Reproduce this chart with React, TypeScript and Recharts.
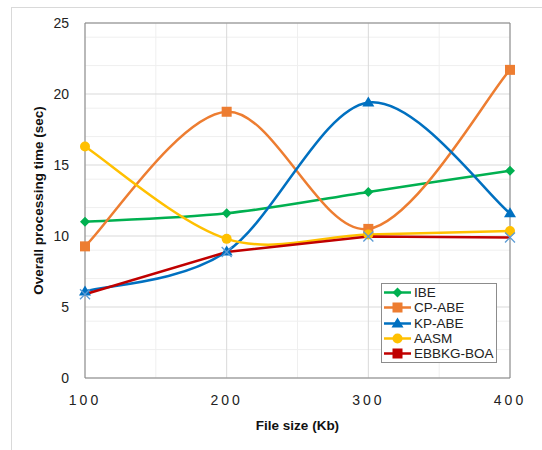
import React from "react";
import { CartesianGrid, Line, LineChart, ReferenceLine, XAxis, YAxis } from "recharts";

const fileSizes = [100, 200, 300, 400];
const ibe = [11.0, 11.6, 13.1, 14.6];
const cpAbe = [9.27, 18.75, 10.5, 21.7];
const kpAbe = [6.1, 8.9, 19.4, 11.6];
const aasm = [16.3, 9.8, 10.1, 10.35];
const ebbkg = [5.9, 8.87, 9.97, 9.9];

const xTicks = [100, 200, 300, 400];
const yTicks = [0, 5, 10, 15, 20, 25];
const minorX = [150, 250, 350];
const minorY = [1, 2, 3, 4, 6, 7, 8, 9, 11, 12, 13, 14, 16, 17, 18, 19, 21, 22, 23, 24];

const data = fileSizes.map((x, i) => ({
  x,
  ibe: ibe[i],
  cpAbe: cpAbe[i],
  kpAbe: kpAbe[i],
  aasm: aasm[i],
  ebbkg: ebbkg[i],
}));

const FONT = "'Liberation Sans', Arial, sans-serif";

// excel style smoothing (catmull-rom as bezier)
function smoothCurve(context: any) {
  let pts: number[][] = [];
  return {
    areaStart() {},
    areaEnd() {},
    lineStart() {
      pts = [];
    },
    point(x: number, y: number) {
      pts.push([+x, +y]);
    },
    lineEnd() {
      if (!pts.length) return;
      context.moveTo(pts[0][0], pts[0][1]);
      for (let i = 0; i < pts.length - 1; i++) {
        const p0 = pts[i - 1] || pts[i];
        const p1 = pts[i];
        const p2 = pts[i + 1];
        const p3 = pts[i + 2] || p2;
        context.bezierCurveTo(
          p1[0] + (p2[0] - p0[0]) / 6,
          p1[1] + (p2[1] - p0[1]) / 6,
          p2[0] - (p3[0] - p1[0]) / 6,
          p2[1] - (p3[1] - p1[1]) / 6,
          p2[0],
          p2[1]
        );
      }
    },
  };
}

type Shape = "diamond" | "square" | "triangle" | "circle" | "cross";

function Marker({ shape, color, cx, cy }: { shape: Shape; color: string; cx: number; cy: number }) {
  if (shape === "diamond")
    return <polygon points={`${cx},${cy - 5} ${cx + 5},${cy} ${cx},${cy + 5} ${cx - 5},${cy}`} fill={color} />;
  if (shape === "square") return <rect x={cx - 5} y={cy - 5} width={10} height={10} fill={color} />;
  if (shape === "triangle")
    return <polygon points={`${cx},${cy - 6} ${cx + 6},${cy + 4} ${cx - 6},${cy + 4}`} fill={color} />;
  if (shape === "circle") return <circle cx={cx} cy={cy} r={5} fill={color} />;
  return (
    <g stroke={color} strokeWidth={1.3}>
      <line x1={cx - 5} y1={cy - 5} x2={cx + 5} y2={cy + 5} />
      <line x1={cx - 5} y1={cy + 5} x2={cx + 5} y2={cy - 5} />
    </g>
  );
}

const makeDot = (shape: Shape, color: string) => (p: any) =>
  <Marker key={p.index} shape={shape} color={color} cx={p.cx} cy={p.cy} />;

const series = [
  { key: "ibe", name: "IBE", color: "#00b050", shape: "diamond" as Shape, dotColor: "#00b050", legendShape: "diamond" as Shape },
  { key: "cpAbe", name: "CP-ABE", color: "#ed7d31", shape: "square" as Shape, dotColor: "#ed7d31", legendShape: "square" as Shape },
  { key: "kpAbe", name: "KP-ABE", color: "#0070c0", shape: "triangle" as Shape, dotColor: "#0070c0", legendShape: "triangle" as Shape },
  { key: "aasm", name: "AASM", color: "#ffc000", shape: "circle" as Shape, dotColor: "#ffc000", legendShape: "circle" as Shape },
  { key: "ebbkg", name: "EBBKG-BOA", color: "#c00000", shape: "cross" as Shape, dotColor: "#5b9bd5", legendShape: "square" as Shape },
];

function LegendBox() {
  return (
    <div
      style={{
        position: "absolute",
        left: 381,
        top: 283,
        width: 114,
        height: 78,
        border: "1px solid #8c8c8c",
        background: "#fff",
        fontFamily: FONT,
        fontSize: 13.5,
        color: "#222",
      }}
    >
      {series.map((s, i) => (
        <div
          key={s.key}
          style={{ position: "absolute", left: 1, top: 1 + i * 15.3, height: 15, display: "flex", alignItems: "center", whiteSpace: "nowrap" }}
        >
          <svg width={29} height={15}>
            <line x1={1} y1={7.5} x2={28} y2={7.5} stroke={s.color} strokeWidth={2.5} />
            <Marker shape={s.legendShape} color={s.color} cx={14.5} cy={7.5} />
          </svg>
          <span style={{ marginLeft: 2, lineHeight: "15px" }}>{s.name}</span>
        </div>
      ))}
    </div>
  );
}

export default function App() {
  return (
    <div style={{ position: "absolute", left: 0, top: 0, width: 542, height: 450, background: "#fff", overflow: "hidden" }}>
      <div style={{ position: "absolute", left: 11, top: 7, width: 600, height: 500, border: "1px solid #d9d9d9" }} />
      <LineChart
        width={542}
        height={450}
        data={data}
        margin={{ top: 23, right: 32, left: 0, bottom: 0 }}
        style={{ position: "absolute", left: 0, top: 0 }}
      >
        <CartesianGrid horizontalValues={minorY} verticalValues={minorX} stroke="#efefef" strokeWidth={1} />
        <CartesianGrid stroke="#d9d9d9" strokeWidth={1} />
        <XAxis
          dataKey="x"
          type="number"
          domain={[100, 400]}
          ticks={xTicks}
          height={72}
          axisLine={{ stroke: "#868686" }}
          tickLine={false}
          tickMargin={11}
          tick={{ fontSize: 14, fill: "#222", fontFamily: FONT, letterSpacing: 3 }}
          label={{
            value: "File size (Kb)",
            position: "insideBottom",
            offset: 20,
            style: { fontSize: 13.5, fontWeight: "bold", fill: "#111", fontFamily: FONT },
          }}
        />
        <YAxis
          type="number"
          domain={[0, 25]}
          ticks={yTicks}
          width={85}
          axisLine={{ stroke: "#868686" }}
          tickLine={false}
          tickMargin={10}
          tick={{ fontSize: 14, fill: "#222", fontFamily: FONT }}
          label={{
            value: "Overall processing time (sec)",
            angle: -90,
            position: "insideLeft",
            offset: 38,
            style: { textAnchor: "middle", fontSize: 13.5, fontWeight: "bold", fill: "#111", fontFamily: FONT },
          }}
        />
        <ReferenceLine y={25} stroke="#868686" />
        <ReferenceLine x={400} stroke="#868686" />
        {series.map((s) => (
          <Line
            key={s.key}
            dataKey={s.key}
            name={s.name}
            type={s.key === "ebbkg" ? "linear" : (smoothCurve as any)}
            stroke={s.color}
            strokeWidth={2.5}
            dot={makeDot(s.shape, s.dotColor)}
            activeDot={false}
            isAnimationActive={false}
          />
        ))}
      </LineChart>
      <LegendBox />
    </div>
  );
}
